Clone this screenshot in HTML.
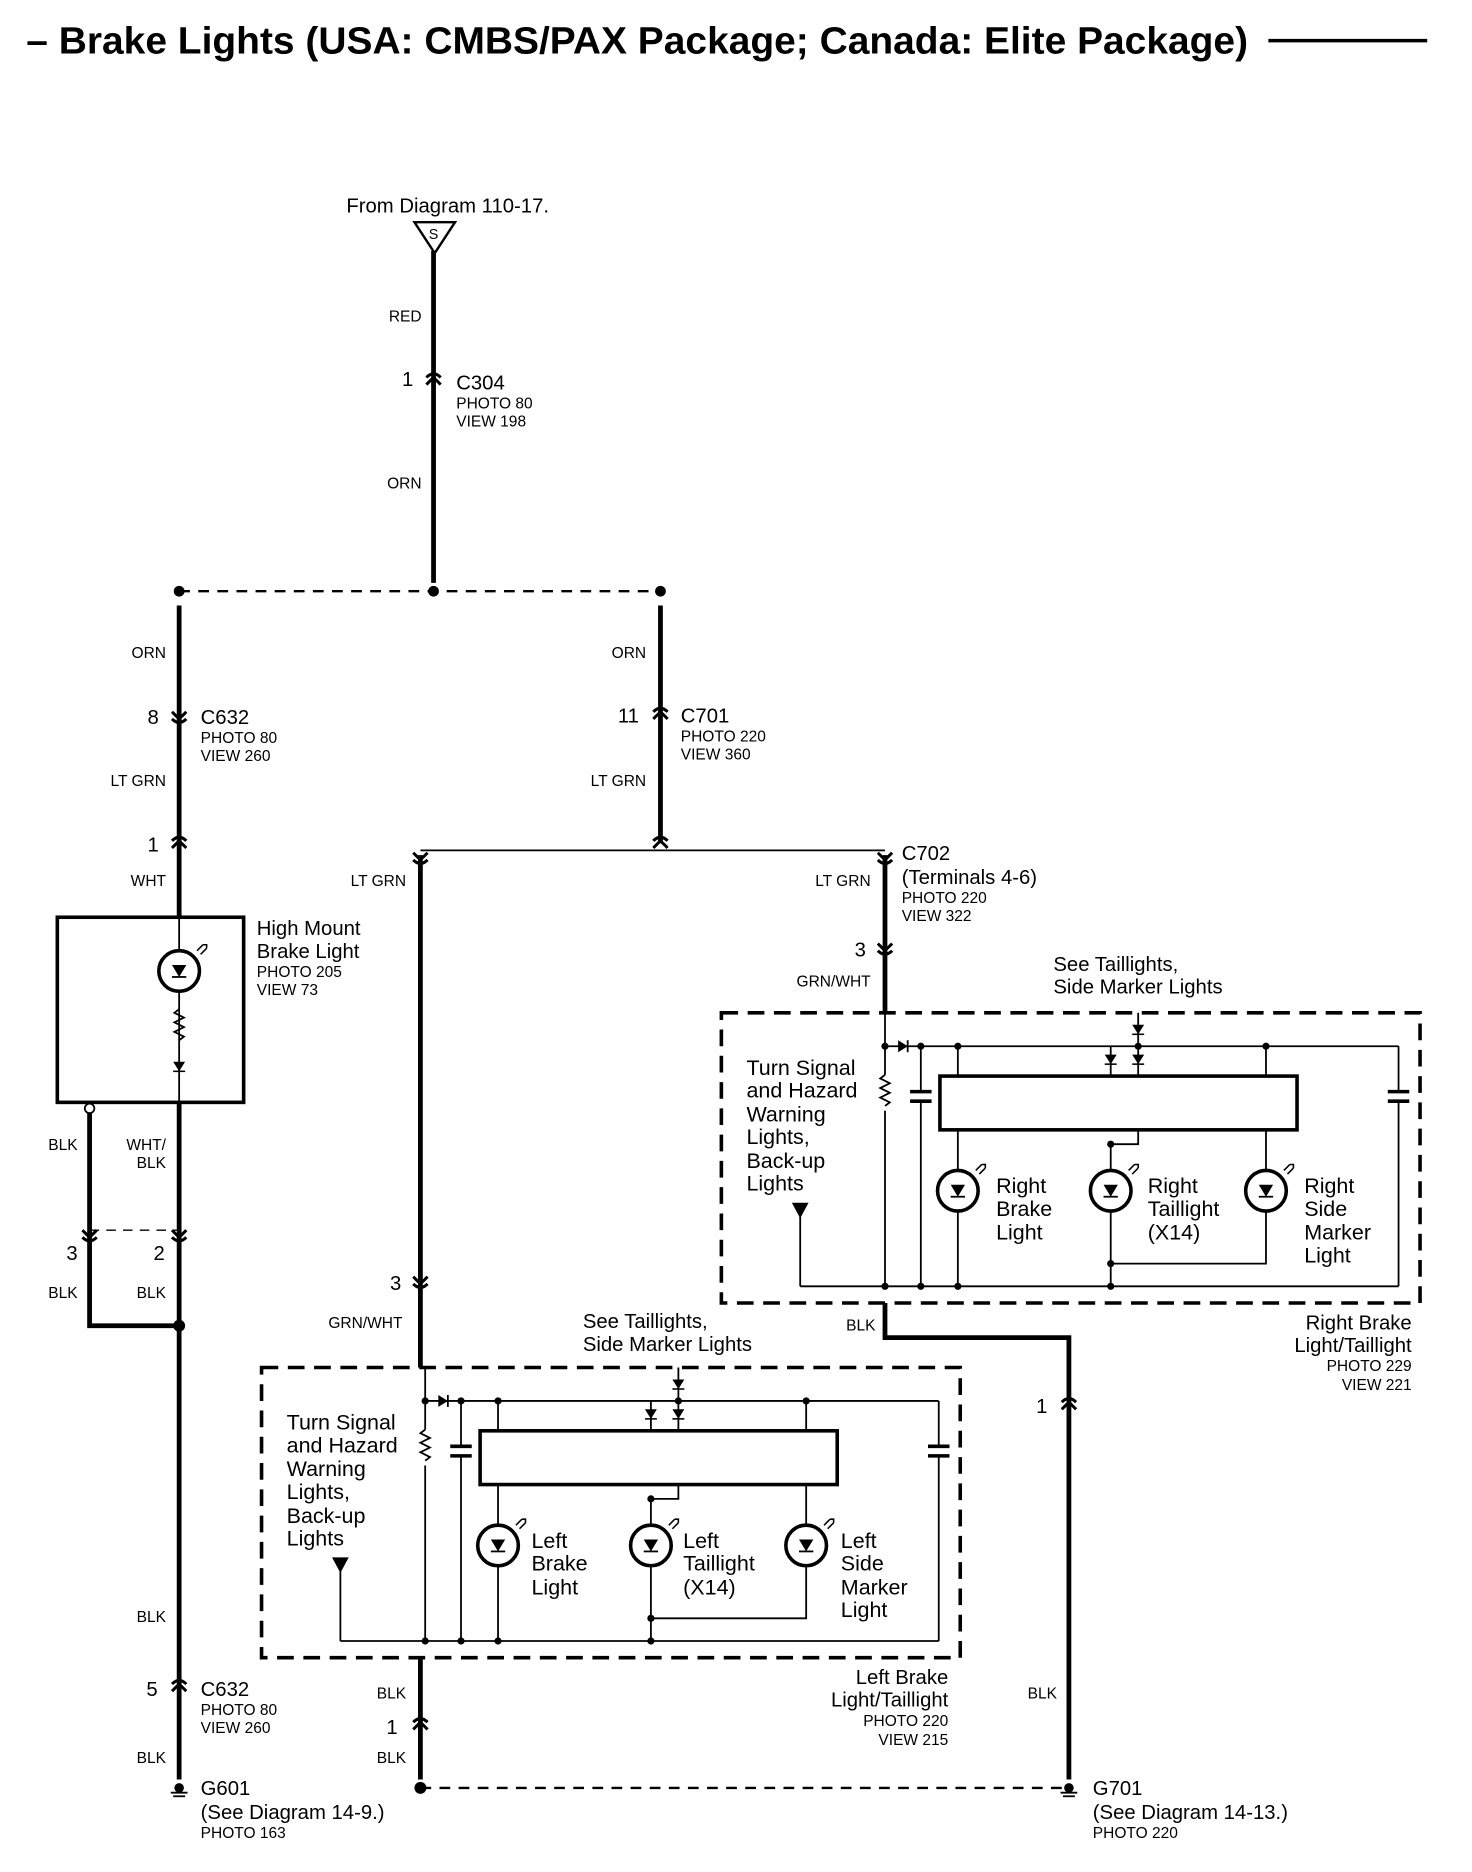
<!DOCTYPE html>
<html><head><meta charset="utf-8"><style>
html,body{margin:0;padding:0;background:#fff;}
svg{display:block;}
text{font-family:"Liberation Sans",sans-serif;fill:#000;}
.s{font-size:13px;}
.m{font-size:17px;}
.l{font-size:18px;}
.r{text-anchor:end;}
</style></head><body>
<svg width="1472" height="1872" viewBox="0 0 1232.5 1567.4" xmlns="http://www.w3.org/2000/svg">
<defs>
<g id="lamp">
<circle cx="0" cy="0" r="17" fill="none" stroke="#000" stroke-width="3"/>
<polygon points="-6,-5 6,-5 0,5" fill="#000"/>
<line x1="-6" y1="5" x2="6" y2="5" stroke="#000" stroke-width="1.5"/>
<path d="M15,-17 l5,-5 M18,-14 l5,-5 M20,-22 l3,0 l0,3" stroke="#000" stroke-width="1.3" fill="none"/>
</g>
<g id="cup"><path d="M-6,-6 L0,0 L6,-6 M-6,0 Q0,6 6,0" stroke="#000" stroke-width="2.5" fill="none"/></g>
<g id="cupu"><path d="M-6,6 L0,0 L6,6 M-6,0 Q0,-6 6,0" stroke="#000" stroke-width="2.5" fill="none"/></g>
<g id="dd"><polygon points="-5,-4 5,-4 0,4" fill="#000"/><line x1="-5" y1="4" x2="5" y2="4" stroke="#000" stroke-width="1.3"/></g>
<g id="gnd"><circle cx="0" cy="-3" r="4" fill="#000"/><line x1="-7" y1="1" x2="7" y2="1" stroke="#000" stroke-width="1.5"/><line x1="-5" y1="4" x2="5" y2="4" stroke="#000" stroke-width="1.5"/></g>
<g id="box">
<rect x="604" y="848" width="585" height="243" fill="none" stroke="#000" stroke-width="3" stroke-dasharray="14,8"/>
<g stroke="#000" stroke-width="1.5" fill="none">
<line x1="741" y1="848" x2="741" y2="900"/><path d="M741,900 l-4,3 l8,4 l-8,4 l8,4 l-8,4 l8,4 l-4,3"/><line x1="741" y1="930" x2="741" y2="1077"/>
<line x1="741" y1="876" x2="1171" y2="876"/>
<line x1="771" y1="876" x2="771" y2="914"/><line x1="771" y1="922" x2="771" y2="1077"/>
<line x1="1171" y1="876" x2="1171" y2="914"/><line x1="1171" y1="922" x2="1171" y2="1077"/>
<line x1="802" y1="876" x2="802" y2="1077"/>
<line x1="930" y1="876" x2="930" y2="901"/>
<line x1="953" y1="848" x2="953" y2="901"/>
<line x1="1060" y1="876" x2="1060" y2="901"/>
<path d="M953,946 V958 H930 V1077"/>
<path d="M1060,946 V1058 H930"/>
<line x1="670" y1="1077" x2="1171" y2="1077"/>
<line x1="670" y1="1018" x2="670" y2="1077"/>
</g>
<g stroke="#000" stroke-width="3"><line x1="762" y1="914" x2="780" y2="914"/><line x1="762" y1="922" x2="780" y2="922"/><line x1="1162" y1="914" x2="1180" y2="914"/><line x1="1162" y1="922" x2="1180" y2="922"/></g>
<rect x="787" y="901" width="299" height="45" fill="#fff" stroke="#000" stroke-width="3"/>
<polygon points="752,871 752,881 760,876" fill="#000"/><line x1="760" y1="871" x2="760" y2="881" stroke="#000" stroke-width="1.5"/>
<use href="#dd" x="953" y="862"/><use href="#dd" x="953" y="887"/><use href="#dd" x="930" y="887"/>
<polygon points="663,1007 677,1007 670,1020" fill="#000"/>
<g fill="#000"><circle cx="741" cy="876" r="3"/><circle cx="771" cy="876" r="3"/><circle cx="802" cy="876" r="3"/><circle cx="1060" cy="876" r="3"/><circle cx="953" cy="876" r="3"/><circle cx="930" cy="958" r="3"/><circle cx="930" cy="1058" r="3"/><circle cx="741" cy="1077" r="3"/><circle cx="771" cy="1077" r="3"/><circle cx="802" cy="1077" r="3"/><circle cx="930" cy="1077" r="3"/></g>
<g fill="#fff"><circle cx="802" cy="997" r="17"/><circle cx="930" cy="997" r="17"/><circle cx="1060" cy="997" r="17"/></g>
<use href="#lamp" x="802" y="997"/><use href="#lamp" x="930" y="997"/><use href="#lamp" x="1060" y="997"/>
<text class="l"><tspan x="625" y="900">Turn Signal</tspan><tspan x="625" y="919">and Hazard</tspan><tspan x="625" y="939">Warning</tspan><tspan x="625" y="958">Lights,</tspan><tspan x="625" y="978">Back-up</tspan><tspan x="625" y="997">Lights</tspan></text>
</g>
</defs>

<text x="22" y="45" font-size="32" font-weight="bold" textLength="1023" lengthAdjust="spacingAndGlyphs">– Brake Lights (USA: CMBS/PAX Package; Canada: Elite Package)</text>
<line x1="1062" y1="34" x2="1195" y2="34" stroke="#000" stroke-width="3"/>

<g stroke="#000" fill="none">
<line x1="363" y1="210" x2="363" y2="488" stroke-width="4"/>
<line x1="150" y1="495" x2="553" y2="495" stroke-width="2" stroke-dasharray="9,7"/>
<line x1="150" y1="507" x2="150" y2="768" stroke-width="4"/>
<line x1="553" y1="507" x2="553" y2="706" stroke-width="4"/>
<line x1="352" y1="712" x2="741" y2="712" stroke-width="1.5"/>
<line x1="352" y1="716" x2="352" y2="1145" stroke-width="4"/>
<line x1="741" y1="716" x2="741" y2="848" stroke-width="4"/>
<rect x="48" y="768" width="156" height="155" stroke-width="3"/>
<line x1="150" y1="768" x2="150" y2="923" stroke-width="1.5"/>
<path d="M150,845 l-4,3 l8,4 l-8,4 l8,4 l-8,4 l8,4 l-4,3" stroke-width="1.5"/>
<line x1="150" y1="923" x2="150" y2="1490" stroke-width="4"/>
<path d="M75,932 V1110 H146" stroke-width="4"/>
<line x1="75" y1="1030" x2="150" y2="1030" stroke-width="1.2" stroke-dasharray="8,6"/>
<path d="M741,1091 V1120 H895 V1490" stroke-width="4"/>
<line x1="352" y1="1389" x2="352" y2="1490" stroke-width="4"/>
<line x1="352" y1="1497" x2="895" y2="1497" stroke-width="2" stroke-dasharray="9,7"/>
</g>
<polygon points="347,186 381,186 364,212" fill="#fff" stroke="#000" stroke-width="2"/>
<text x="359" y="200" font-size="12">S</text>
<text class="m" x="290" y="178">From Diagram 110-17.</text>
<text class="s r" x="353" y="269">RED</text>
<use href="#cupu" x="363" y="316"/><text class="m r" x="346" y="323">1</text>
<text class="m" x="382" y="326">C304</text><text class="s" x="382" y="342">PHOTO 80</text><text class="s" x="382" y="357">VIEW 198</text>
<text class="s r" x="353" y="409">ORN</text>
<g fill="#000"><circle cx="150" cy="495" r="4.5"/><circle cx="363" cy="495" r="4.5"/><circle cx="553" cy="495" r="4.5"/><circle cx="150" cy="1110" r="5"/><circle cx="352" cy="1497" r="5"/></g>
<text class="s r" x="139" y="551">ORN</text><text class="s r" x="541" y="551">ORN</text>
<use href="#cup" x="150" y="602"/><text class="m r" x="133" y="606">8</text>
<text class="m" x="168" y="606">C632</text><text class="s" x="168" y="622">PHOTO 80</text><text class="s" x="168" y="637">VIEW 260</text>
<use href="#cupu" x="553" y="596"/><text class="m r" x="535" y="605">11</text>
<text class="m" x="570" y="605">C701</text><text class="s" x="570" y="621">PHOTO 220</text><text class="s" x="570" y="636">VIEW 360</text>
<text class="s r" x="139" y="658">LT GRN</text><text class="s r" x="541" y="658">LT GRN</text>
<use href="#cupu" x="150" y="704"/><text class="m r" x="133" y="713">1</text>
<use href="#cupu" x="553" y="704"/>
<use href="#cup" x="352" y="720"/><use href="#cup" x="741" y="720"/>
<text class="s r" x="139" y="742">WHT</text><text class="s r" x="340" y="742">LT GRN</text><text class="s r" x="729" y="742">LT GRN</text>
<text class="m" x="755" y="720">C702</text><text class="m" x="755" y="740">(Terminals 4-6)</text><text class="s" x="755" y="756">PHOTO 220</text><text class="s" x="755" y="771">VIEW 322</text>
<use href="#cup" x="741" y="796"/><text class="m r" x="725" y="801">3</text>
<text class="s r" x="729" y="826">GRN/WHT</text>
<text class="m"><tspan x="882" y="813">See Taillights,</tspan><tspan x="882" y="832">Side Marker Lights</tspan></text>
<circle cx="150" cy="813" r="17" fill="#fff"/><use href="#lamp" x="150" y="813"/>
<use href="#dd" x="150" y="893"/>
<circle cx="75" cy="928" r="4" fill="#fff" stroke="#000" stroke-width="1.5"/>
<text class="m"><tspan x="215" y="783">High Mount</tspan><tspan x="215" y="802">Brake Light</tspan></text>
<text class="s" x="215" y="818">PHOTO 205</text><text class="s" x="215" y="833">VIEW 73</text>
<text class="s r" x="65" y="963">BLK</text><text class="s r" x="139" y="963">WHT/</text><text class="s r" x="139" y="978">BLK</text>
<use href="#cup" x="75" y="1036"/><use href="#cup" x="150" y="1036"/>
<text class="m r" x="65" y="1055">3</text><text class="m r" x="138" y="1055">2</text>
<text class="s r" x="65" y="1087">BLK</text><text class="s r" x="139" y="1087">BLK</text>
<use href="#cup" x="352" y="1075"/><text class="m r" x="336" y="1080">3</text>
<text class="s r" x="337" y="1112">GRN/WHT</text>
<use href="#box"/>
<text class="s r" x="733" y="1114">BLK</text>
<text class="m r" x="1182" y="1113">Right Brake</text><text class="m r" x="1182" y="1132">Light/Taillight</text><text class="s r" x="1182" y="1148">PHOTO 229</text><text class="s r" x="1182" y="1164">VIEW 221</text>
<text class="m"><tspan x="488" y="1112">See Taillights,</tspan><tspan x="488" y="1131">Side Marker Lights</tspan></text>
<g transform="translate(-385,297)"><use href="#box"/></g>
<g fill="#fff"><rect x="440" y="1280" width="70" height="70"/><rect x="570" y="1280" width="80" height="60"/><rect x="700" y="1280" width="76" height="80"/></g>
<text class="l"><tspan x="445" y="1296">Left</tspan><tspan x="445" y="1315">Brake</tspan><tspan x="445" y="1335">Light</tspan></text>
<text class="l"><tspan x="572" y="1296">Left</tspan><tspan x="572" y="1315">Taillight</tspan><tspan x="572" y="1335">(X14)</tspan></text>
<text class="l"><tspan x="704" y="1296">Left</tspan><tspan x="704" y="1315">Side</tspan><tspan x="704" y="1335">Marker</tspan><tspan x="704" y="1354">Light</tspan></text>
<text class="l"><tspan x="834" y="999">Right</tspan><tspan x="834" y="1018">Brake</tspan><tspan x="834" y="1038">Light</tspan></text>
<text class="l"><tspan x="961" y="999">Right</tspan><tspan x="961" y="1018">Taillight</tspan><tspan x="961" y="1038">(X14)</tspan></text>
<text class="l"><tspan x="1092" y="999">Right</tspan><tspan x="1092" y="1018">Side</tspan><tspan x="1092" y="1038">Marker</tspan><tspan x="1092" y="1057">Light</tspan></text>
<text class="m r" x="794" y="1410">Left Brake</text><text class="m r" x="794" y="1429">Light/Taillight</text><text class="s r" x="794" y="1445">PHOTO 220</text><text class="s r" x="794" y="1461">VIEW 215</text>
<use href="#cupu" x="895" y="1174"/><text class="m r" x="877" y="1183">1</text>
<text class="s r" x="139" y="1358">BLK</text>
<use href="#cupu" x="150" y="1410"/><text class="m r" x="132" y="1420">5</text>
<text class="m" x="168" y="1420">C632</text><text class="s" x="168" y="1436">PHOTO 80</text><text class="s" x="168" y="1451">VIEW 260</text>
<text class="s r" x="139" y="1476">BLK</text>
<text class="s r" x="340" y="1422">BLK</text>
<use href="#cupu" x="352" y="1442"/><text class="m r" x="333" y="1452">1</text>
<text class="s r" x="340" y="1476">BLK</text>
<text class="s r" x="885" y="1422">BLK</text>
<use href="#gnd" x="150" y="1500"/><use href="#gnd" x="895" y="1500"/>
<text class="m" x="168" y="1503">G601</text><text class="m" x="168" y="1523">(See Diagram 14-9.)</text><text class="s" x="168" y="1539">PHOTO 163</text>
<text class="m" x="915" y="1503">G701</text><text class="m" x="915" y="1523">(See Diagram 14-13.)</text><text class="s" x="915" y="1539">PHOTO 220</text>
</svg>
</body></html>
